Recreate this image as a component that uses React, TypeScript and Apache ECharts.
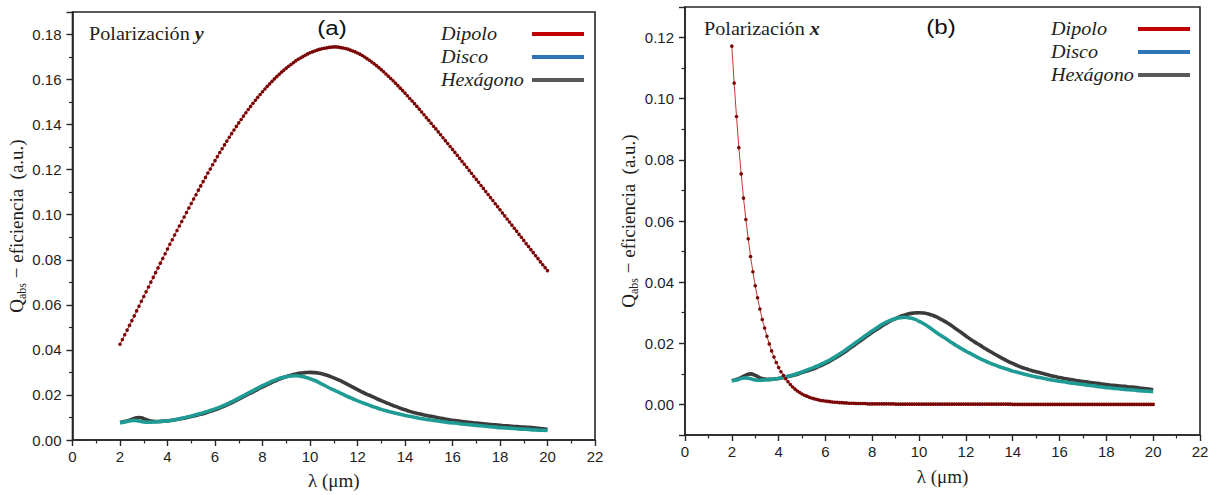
import { useEffect, useRef } from "react";
import * as echarts from "echarts";

const SERIF = "'Liberation Serif', 'Times New Roman', serif";
const SANS = "'Liberation Sans', Arial, sans-serif";

// Sampling start and steps of the wavelength grids (µm)
const LAMBDA_START = 2;
const STEP_FINE = 0.1;
const STEP_COARSE = 0.2;

const seriesNames = ["Dipolo", "Disco", "Hexágono"];
const legendColors = ["#c00000", "#2e75b6", "#595959"];
const panelTitles = ["(a)", "(b)"];
const polarizations = ["y", "x"];
const xTicks = { min: 0, max: 22, step: 2 };

// Dipolo, polarización y (2.0 … 20.0 µm, every 0.1 µm)
const dipoloY = [
  0.0425, 0.0446, 0.0467, 0.0488, 0.0509,
  0.0530, 0.0551, 0.0573, 0.0594, 0.0616,
  0.0637, 0.0658, 0.0679, 0.0701, 0.0722,
  0.0743, 0.0764, 0.0785, 0.0806, 0.0827,
  0.0848, 0.0869, 0.0889, 0.0910, 0.0930,
  0.0950, 0.0970, 0.0990, 0.1010, 0.1030,
  0.1050, 0.1070, 0.1089, 0.1109, 0.1128,
  0.1147, 0.1166, 0.1185, 0.1203, 0.1222,
  0.1240, 0.1258, 0.1276, 0.1293, 0.1310,
  0.1327, 0.1344, 0.1360, 0.1376, 0.1392,
  0.1408, 0.1423, 0.1438, 0.1453, 0.1467,
  0.1481, 0.1495, 0.1508, 0.1521, 0.1534,
  0.1546, 0.1558, 0.1570, 0.1581, 0.1592,
  0.1603, 0.1613, 0.1623, 0.1633, 0.1642,
  0.1651, 0.1659, 0.1667, 0.1675, 0.1683,
  0.1690, 0.1696, 0.1702, 0.1708, 0.1714,
  0.1719, 0.1723, 0.1727, 0.1731, 0.1734,
  0.1737, 0.1739, 0.1741, 0.1743, 0.1744,
  0.1745, 0.1745, 0.1744, 0.1742, 0.1740,
  0.1738, 0.1735, 0.1731, 0.1727, 0.1723,
  0.1718, 0.1713, 0.1707, 0.1700, 0.1693,
  0.1686, 0.1678, 0.1670, 0.1662, 0.1653,
  0.1644, 0.1635, 0.1625, 0.1615, 0.1605,
  0.1595, 0.1584, 0.1573, 0.1562, 0.1551,
  0.1540, 0.1528, 0.1516, 0.1505, 0.1493,
  0.1481, 0.1469, 0.1456, 0.1444, 0.1431,
  0.1419, 0.1406, 0.1393, 0.1381, 0.1368,
  0.1355, 0.1342, 0.1329, 0.1316, 0.1303,
  0.1290, 0.1277, 0.1264, 0.1250, 0.1237,
  0.1224, 0.1211, 0.1197, 0.1184, 0.1170,
  0.1157, 0.1144, 0.1130, 0.1117, 0.1103,
  0.1090, 0.1076, 0.1063, 0.1049, 0.1036,
  0.1022, 0.1008, 0.0995, 0.0981, 0.0968,
  0.0954, 0.0940, 0.0927, 0.0913, 0.0900,
  0.0886, 0.0872, 0.0859, 0.0845, 0.0832,
  0.0818, 0.0805, 0.0791, 0.0778, 0.0765,
  0.0752,
];

// Dipolo, polarización x (2.0 … 20.0 µm, every 0.1 µm)
const dipoloX = [
  0.1172, 0.1051, 0.0942, 0.0840, 0.0754, 0.0675, 0.0605, 0.0542, 0.0484, 0.0434,
  0.0388, 0.0349, 0.0312, 0.0278, 0.0250, 0.0223, 0.0198, 0.0175, 0.0155, 0.0137,
  0.0121, 0.0107, 0.0095, 0.0084, 0.0074, 0.0065, 0.0057, 0.0050, 0.0044, 0.0039,
  0.0034, 0.0030, 0.0027, 0.0024, 0.0021, 0.0019, 0.0017, 0.0015, 0.0013, 0.0012,
  0.0011, 0.0010, 0.0009, 0.0008, 0.0007, 0.0007, 0.0006, 0.0006, 0.0005, 0.0005,
  0.0004, 0.0004, 0.0004, 0.0003, 0.0003, 0.0003, 0.0003, 0.0003, 0.0002, 0.0002,
  0.0002, 0.0002, 0.0002, 0.0002, 0.0002, 0.0002, 0.0002, 0.0002, 0.0002, 0.0002,
  0.0001, 0.0001, 0.0001, 0.0001, 0.0001, 0.0001, 0.0001, 0.0001, 0.0001, 0.0001,
  0.0001, 0.0001, 0.0001, 0.0001, 0.0001, 0.0001, 0.0001, 0.0001, 0.0001, 0.0001,
  0.0001, 0.0001, 0.0001, 0.0001, 0.0001, 0.0001, 0.0001, 0.0001, 0.0001, 0.0001,
  0.0001, 0.0001, 0.0001, 0.0001, 0.0001, 0.0001, 0.0001, 0.0001, 0.0001, 0.0001,
  0.0001, 0.0001, 0.0001, 0.0001, 0.0001, 0.0001, 0.0001, 0.0001, 0.0001, 0.0001,
  0, 0, 0, 0, 0, 0, 0, 0, 0, 0,
  0, 0, 0, 0, 0, 0, 0, 0, 0, 0,
  0, 0, 0, 0, 0, 0, 0, 0, 0, 0,
  0, 0, 0, 0, 0, 0, 0, 0, 0, 0,
  0, 0, 0, 0, 0, 0, 0, 0, 0, 0,
  0, 0, 0, 0, 0, 0, 0, 0, 0, 0,
  0,
];

// Disco (2.0 … 20.0 µm, every 0.2 µm)
const disco = [
  0.0077, 0.0080, 0.0085, 0.0087, 0.0084, 0.0080, 0.0079, 0.0080, 0.0081, 0.0083,
  0.0085, 0.0088, 0.0092, 0.0096, 0.0101, 0.0106, 0.0112, 0.0118, 0.0124, 0.0131,
  0.0138, 0.0146, 0.0155, 0.0165, 0.0175, 0.0186, 0.0197, 0.0208, 0.0219, 0.0230,
  0.0241, 0.0251, 0.0261, 0.0269, 0.0276, 0.0281, 0.0284, 0.0285, 0.0283, 0.0279,
  0.0272, 0.0264, 0.0254, 0.0243, 0.0232, 0.0222, 0.0212, 0.0202, 0.0192, 0.0183,
  0.0174, 0.0166, 0.0158, 0.0150, 0.0143, 0.0136, 0.0130, 0.0124, 0.0119, 0.0114,
  0.0109, 0.0105, 0.0101, 0.0097, 0.0093, 0.0090, 0.0087, 0.0084, 0.0081, 0.0078,
  0.0076, 0.0074, 0.0071, 0.0069, 0.0067, 0.0065, 0.0063, 0.0061, 0.0059, 0.0057,
  0.0055, 0.0054, 0.0052, 0.0051, 0.0049, 0.0048, 0.0047, 0.0045, 0.0044, 0.0043,
  0.0042,
];

// Hexágono (2.0 … 20.0 µm, every 0.2 µm)
const hexagono = [
  0.0078, 0.0082, 0.0088, 0.0096, 0.0100, 0.0095, 0.0087, 0.0083, 0.0082, 0.0083,
  0.0085, 0.0088, 0.0091, 0.0095, 0.0099, 0.0104, 0.0109, 0.0114, 0.0120, 0.0127,
  0.0134, 0.0142, 0.0151, 0.0160, 0.0170, 0.0181, 0.0192, 0.0203, 0.0214, 0.0225,
  0.0236, 0.0246, 0.0256, 0.0265, 0.0274, 0.0281, 0.0288, 0.0293, 0.0297, 0.0299,
  0.0300, 0.0299, 0.0296, 0.0291, 0.0284, 0.0276, 0.0267, 0.0257, 0.0246, 0.0235,
  0.0224, 0.0213, 0.0203, 0.0194, 0.0184, 0.0175, 0.0166, 0.0157, 0.0149, 0.0141,
  0.0134, 0.0127, 0.0121, 0.0116, 0.0111, 0.0107, 0.0103, 0.0099, 0.0095, 0.0091,
  0.0088, 0.0085, 0.0082, 0.0080, 0.0077, 0.0075, 0.0073, 0.0071, 0.0069, 0.0067,
  0.0065, 0.0063, 0.0062, 0.0060, 0.0059, 0.0057, 0.0056, 0.0054, 0.0052, 0.0050,
  0.0048,
];

const pairs = (values: number[], step: number) =>
  values.map((v, i) => [+(LAMBDA_START + i * step).toFixed(2), v]);

const AXIS_COLOR = "#262626";
const TEXT_COLOR = "#1e1e1e";

function xAxisFor(gridIndex: number, nameGap: number) {
  return {
    type: "value",
    gridIndex,
    min: xTicks.min,
    max: xTicks.max,
    interval: xTicks.step,
    axisLine: { show: true, onZero: false, lineStyle: { color: AXIS_COLOR, width: 1.6 } },
    axisTick: { show: true, inside: false, length: 6, lineStyle: { color: AXIS_COLOR, width: 1.4 } },
    minorTick: { show: true, splitNumber: 2, length: 3.5, lineStyle: { color: AXIS_COLOR, width: 1.2 } },
    splitLine: { show: false },
    axisLabel: { fontFamily: SANS, fontSize: 15, color: TEXT_COLOR, margin: 9 },
    name: "λ (μm)",
    nameLocation: "middle",
    nameGap,
    nameTextStyle: { fontFamily: SERIF, fontSize: 19, color: TEXT_COLOR },
  };
}

function yAxisName() {
  return "{q|Q}{s|abs}{q| − eficiencia  (a.u.)}";
}

function yAxisFor(gridIndex: number, extra: Record<string, unknown>, nameGap: number) {
  return {
    type: "value",
    gridIndex,
    ...extra,
    axisLine: { show: true, onZero: false, lineStyle: { color: AXIS_COLOR, width: 1.6 } },
    axisTick: { show: true, inside: false, length: 6, lineStyle: { color: AXIS_COLOR, width: 1.4 } },
    minorTick: { show: true, splitNumber: 2, length: 3.5, lineStyle: { color: AXIS_COLOR, width: 1.2 } },
    splitLine: { show: false },
    axisLabel: {
      fontFamily: SANS,
      fontSize: 15,
      color: TEXT_COLOR,
      margin: 11,
      showMinLabel: gridIndex === 0,
      showMaxLabel: false,
      formatter: (v: number) => v.toFixed(2),
    },
    name: yAxisName(),
    nameLocation: "middle",
    nameRotate: 90,
    nameGap,
    nameTextStyle: {
      color: TEXT_COLOR,
      rich: {
        q: { fontFamily: SERIF, fontSize: 19, color: TEXT_COLOR, lineHeight: 24 },
        s: { fontFamily: SERIF, fontSize: 12, color: TEXT_COLOR, verticalAlign: "bottom", lineHeight: 12 },
      },
    },
  };
}

function curveSeries(gridIndex: number, dipolo: number[]) {
  return [
    {
      name: "Hexágono",
      type: "line",
      xAxisIndex: gridIndex,
      yAxisIndex: gridIndex,
      data: pairs(hexagono, STEP_COARSE),
      showSymbol: false,
      smooth: true,
      lineStyle: { color: "#3b3b3b", width: 3.6 },
      z: 2,
    },
    {
      name: "Disco",
      type: "line",
      xAxisIndex: gridIndex,
      yAxisIndex: gridIndex,
      data: pairs(disco, STEP_COARSE),
      showSymbol: false,
      smooth: true,
      lineStyle: { color: "#1f9b96", width: 3.6 },
      z: 3,
    },
    {
      name: "Dipolo",
      type: "line",
      xAxisIndex: gridIndex,
      yAxisIndex: gridIndex,
      data: pairs(dipolo, STEP_FINE),
      symbol: "circle",
      symbolSize: 3.6,
      showSymbol: true,
      itemStyle: { color: "#7a0606" },
      lineStyle: { color: "#c23a35", width: 1 },
      z: 4,
    },
  ];
}

function legendGraphics(textX: number, lineX: number, y0: number) {
  return seriesNames.flatMap((name, i) => [
    {
      type: "text",
      x: textX,
      y: y0 + i * 23,
      scaleX: 1.12,
      style: {
        text: name,
        fontFamily: SERIF,
        fontSize: 18,
        fontStyle: "italic",
        fill: TEXT_COLOR,
        textAlign: "left",
        textVerticalAlign: "middle",
        align: "left",
        verticalAlign: "middle",
      },
    },
    {
      type: "rect",
      shape: { x: lineX, y: y0 + i * 23 - 2, width: 52, height: 4 },
      style: { fill: legendColors[i] },
    },
  ]);
}

function panelTexts(polX: number, polY: number, titleX: number, titleY: number, idx: number) {
  return [
    {
      type: "text",
      x: polX,
      y: polY,
      scaleX: 1.12,
      style: {
        text: `{a|Polarización }{b|${polarizations[idx]}}`,
        textVerticalAlign: "middle",
        verticalAlign: "middle",
        rich: {
          a: { fontFamily: SERIF, fontSize: 18, fill: TEXT_COLOR, color: TEXT_COLOR },
          b: { fontFamily: SERIF, fontSize: 18, fontWeight: "bold", fontStyle: "italic", fill: TEXT_COLOR, color: TEXT_COLOR },
        },
      },
    },
    {
      type: "text",
      x: titleX,
      y: titleY,
      scaleX: 1.15,
      style: {
        text: panelTitles[idx],
        fontFamily: SANS,
        fontSize: 21,
        fill: "#111",
        textAlign: "center",
        textVerticalAlign: "middle",
        align: "center",
        verticalAlign: "middle",
      },
    },
  ];
}

export default function App() {
  const ref = useRef<HTMLDivElement>(null);

  useEffect(() => {
    if (!ref.current) return;
    const chart = echarts.init(ref.current, undefined, { renderer: "svg" });
    chart.setOption({
      animation: false,
      backgroundColor: "#ffffff",
      grid: [
        { left: 72.5, top: 12, width: 522.5, height: 431, show: true, borderColor: AXIS_COLOR, borderWidth: 1.6, backgroundColor: "transparent" },
        { left: 685, top: 7, width: 515, height: 428, show: true, borderColor: AXIS_COLOR, borderWidth: 1.6, backgroundColor: "transparent" },
      ],
      xAxis: [xAxisFor(0, 31), xAxisFor(1, 32)],
      yAxis: [
        yAxisFor(0, { min: 0, max: 0.19, interval: 0.02 }, 41),
        yAxisFor(1, { min: -0.01, max: 0.13, splitNumber: 7 }, 45),
      ],
      series: [...curveSeries(0, dipoloY), ...curveSeries(1, dipoloX)],
      graphic: [
        ...panelTexts(89, 34, 332, 28, 0),
        ...panelTexts(704, 29, 941, 27, 1),
        ...legendGraphics(441, 532, 34),
        ...legendGraphics(1051, 1138, 29),
      ],
    });
    return () => chart.dispose();
  }, []);

  return (
    <div
      ref={ref}
      style={{ position: "absolute", left: 0, top: 0, width: 1215, height: 495, background: "#fff" }}
    />
  );
}
